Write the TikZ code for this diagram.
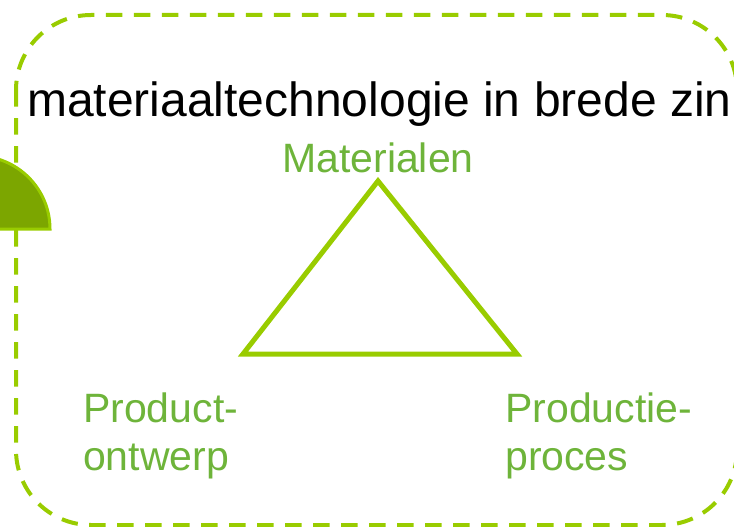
\documentclass[tikz,border=0pt]{standalone}
\usepackage{fontspec}
\setmainfont{Liberation Sans}
\definecolor{limeline}{RGB}{153,204,0}
\definecolor{leafgreen}{RGB}{110,180,58}
\definecolor{olivefill}{RGB}{124,166,0}
\tikzset{
  framedash/.style={draw=limeline, line width=4pt, dash pattern=on 16.5pt off 11.5pt, rounded corners=75pt},
  triline/.style={draw=limeline, line width=5pt, line join=miter},
  corner/.style={text=leafgreen, font=\fontsize{41}{48}\selectfont, inner sep=0pt, align=left, anchor=base west},
}
\begin{document}
\begin{tikzpicture}[x=1pt,y=1pt]
  \useasboundingbox (0,0) rectangle (734,-527);
  \clip (0,0) rectangle (734,-527);
  % dashed rounded frame
  \draw[framedash] (16,-15) rectangle (737,-525);
  % half disc on the left edge
  \filldraw[fill=olivefill, draw=limeline, line width=3pt]
    (50,-229) arc[start angle=0, end angle=180, radius=73pt] -- cycle;
  % heading
  \node[inner sep=0pt, anchor=base west, font=\fontsize{48}{58}\selectfont] (title) at (27,-117) {materiaaltechnologie in brede zin};
  % triangle
  \coordinate (top) at (378,-181);
  \coordinate (bl) at (243,-354);
  \coordinate (br) at (517,-354);
  \draw[triline] (top) -- (bl) -- (br) -- cycle;
  % corner labels
  \node[inner sep=0pt, anchor=base, text=leafgreen, font=\fontsize{41}{48}\selectfont] (mat) at (378,-172) {Materialen};
  \node[corner] (ontwerp) at (83,-470) {Product-\\ontwerp};
  \node[corner] (proces) at (505,-470) {Productie-\\proces};
\end{tikzpicture}
\end{document}
